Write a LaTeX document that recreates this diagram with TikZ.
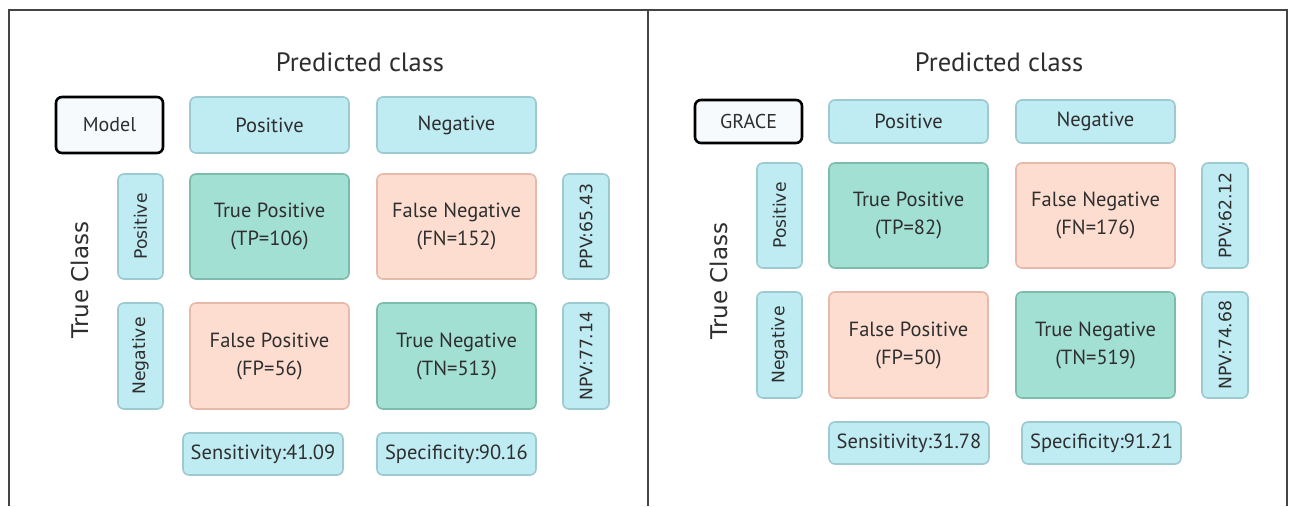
\documentclass[tikz,border=0pt]{standalone}
\usepackage{fontspec}
\setmainfont{PT Sans}
\newfontfamily\rotfont{DejaVu Sans}
\definecolor{txt}{HTML}{2E2E2E}
\definecolor{bluefill}{HTML}{BFEBF2}
\definecolor{blueline}{HTML}{9CCAD0}
\definecolor{greenfill}{HTML}{A3E0D4}
\definecolor{greenline}{HTML}{7DBCAC}
\definecolor{redfill}{HTML}{FDDDD0}
\definecolor{redline}{HTML}{E6B9AB}
\definecolor{modelfill}{HTML}{F6FAFD}
\definecolor{frameline}{HTML}{444444}
\tikzset{
  cellbox/.style={rounded corners=6pt, line width=1.6pt, inner sep=0pt, text=txt, align=center, font=\fontsize{20.5}{28}\selectfont},
  bluebox/.style={cellbox, fill=bluefill, draw=blueline},
  greenbox/.style={cellbox, fill=greenfill, draw=greenline},
  redbox/.style={cellbox, fill=redfill, draw=redline},
  modelbox/.style={cellbox, fill=modelfill, draw=black, line width=2.6pt, font=\fontsize{20}{24}\selectfont},
  rotlabel/.style={rotate=90, font=\rotfont\fontsize{17.2}{20}\selectfont},
  titletext/.style={text=txt, font=\fontsize{26.5}{30}\selectfont, inner sep=0pt},
  truetext/.style={text=txt, rotate=90, font=\rotfont\fontsize{23}{26}\selectfont, inner sep=0pt},
}
\begin{document}
\begin{tikzpicture}[x=1pt,y=-1pt]
\useasboundingbox (0,0) rectangle (1293,506);
\fill[white] (0,0) rectangle (1293,506);
% frame
\coordinate (f1) at (9,506);
\coordinate (f2) at (9,10);
\coordinate (f3) at (1287,10);
\coordinate (f4) at (1287,506);
\coordinate (d1) at (648,10);
\coordinate (d2) at (648,506);
\draw[frameline, line width=1.3pt] (f1) -- (f2) -- (f3) -- (f4);
\draw[frameline, line width=1.3pt] (d1) -- (d2);

% ===== left panel =====
\node[titletext] (lpc) at (360,62) {Predicted class};
\node[truetext] (ltc) at (80,280) {True Class};
\node[modelbox, minimum width=107pt, minimum height=56pt] (lmodel) at (109.5,125) {Model};
\node[bluebox, minimum width=159pt, minimum height=56pt] (lhp) at (269.5,125) {Positive};
\node[bluebox, minimum width=159pt, minimum height=56pt] (lhn) at (456.5,125) {Negative};
\node[bluebox, minimum width=45pt, minimum height=105pt] (lrp) at (140.5,226.5) {};
\node[rotlabel, text=txt] at (lrp) {Positive};
\node[greenbox, minimum width=159pt, minimum height=105pt] (ltp) at (269.5,226.5) {True Positive\\(TP=106)};
\node[redbox, minimum width=159pt, minimum height=105pt] (lfn) at (456.5,226.5) {False Negative\\(FN=152)};
\node[bluebox, minimum width=46pt, minimum height=105pt] (lppv) at (586,226.5) {};
\node[rotlabel, text=txt] at (lppv) {PPV:65.43};
\node[bluebox, minimum width=45pt, minimum height=106pt] (lrn) at (140.5,356) {};
\node[rotlabel, text=txt] at (lrn) {Negative};
\node[redbox, minimum width=159pt, minimum height=106pt] (lfp) at (269.5,356) {False Positive\\(FP=56)};
\node[greenbox, minimum width=159pt, minimum height=106pt] (ltn) at (456.5,356) {True Negative\\(TN=513)};
\node[bluebox, minimum width=46pt, minimum height=106pt] (lnpv) at (586,356) {};
\node[rotlabel, text=txt] at (lnpv) {NPV:77.14};
\node[bluebox, minimum width=160pt, minimum height=42pt] (lsens) at (263,454) {Sensitivity:41.09};
\node[bluebox, minimum width=159pt, minimum height=42pt] (lspec) at (456.5,454) {Specificity:90.16};

% ===== right panel =====
\node[titletext] (rpc) at (999,62) {Predicted class};
\node[truetext] (rtc) at (719,281) {True Class};
\node[modelbox, minimum width=107pt, minimum height=43pt] (rmodel) at (748.5,121.5) {GRACE};
\node[bluebox, minimum width=159pt, minimum height=43pt] (rhp) at (908.5,121.5) {Positive};
\node[bluebox, minimum width=159pt, minimum height=43pt] (rhn) at (1095.5,121.5) {Negative};
\node[bluebox, minimum width=45pt, minimum height=105pt] (rrp) at (779.5,215.5) {};
\node[rotlabel, text=txt] at (rrp) {Positive};
\node[greenbox, minimum width=159pt, minimum height=105pt] (rtp) at (908.5,215.5) {True Positive\\(TP=82)};
\node[redbox, minimum width=159pt, minimum height=105pt] (rfn) at (1095.5,215.5) {False Negative\\(FN=176)};
\node[bluebox, minimum width=46pt, minimum height=105pt] (rppv) at (1225,215.5) {};
\node[rotlabel, text=txt] at (rppv) {PPV:62.12};
\node[bluebox, minimum width=45pt, minimum height=106pt] (rrn) at (779.5,345) {};
\node[rotlabel, text=txt] at (rrn) {Negative};
\node[redbox, minimum width=159pt, minimum height=106pt] (rfp) at (908.5,345) {False Positive\\(FP=50)};
\node[greenbox, minimum width=159pt, minimum height=106pt] (rtn) at (1095.5,345) {True Negative\\(TN=519)};
\node[bluebox, minimum width=46pt, minimum height=106pt] (rnpv) at (1225,345) {};
\node[rotlabel, text=txt] at (rnpv) {NPV:74.68};
\node[bluebox, minimum width=160pt, minimum height=42pt] (rsens) at (909,443) {Sensitivity:31.78};
\node[bluebox, minimum width=159pt, minimum height=42pt] (rspec) at (1101.5,443) {Specificity:91.21};
\end{tikzpicture}
\end{document}
